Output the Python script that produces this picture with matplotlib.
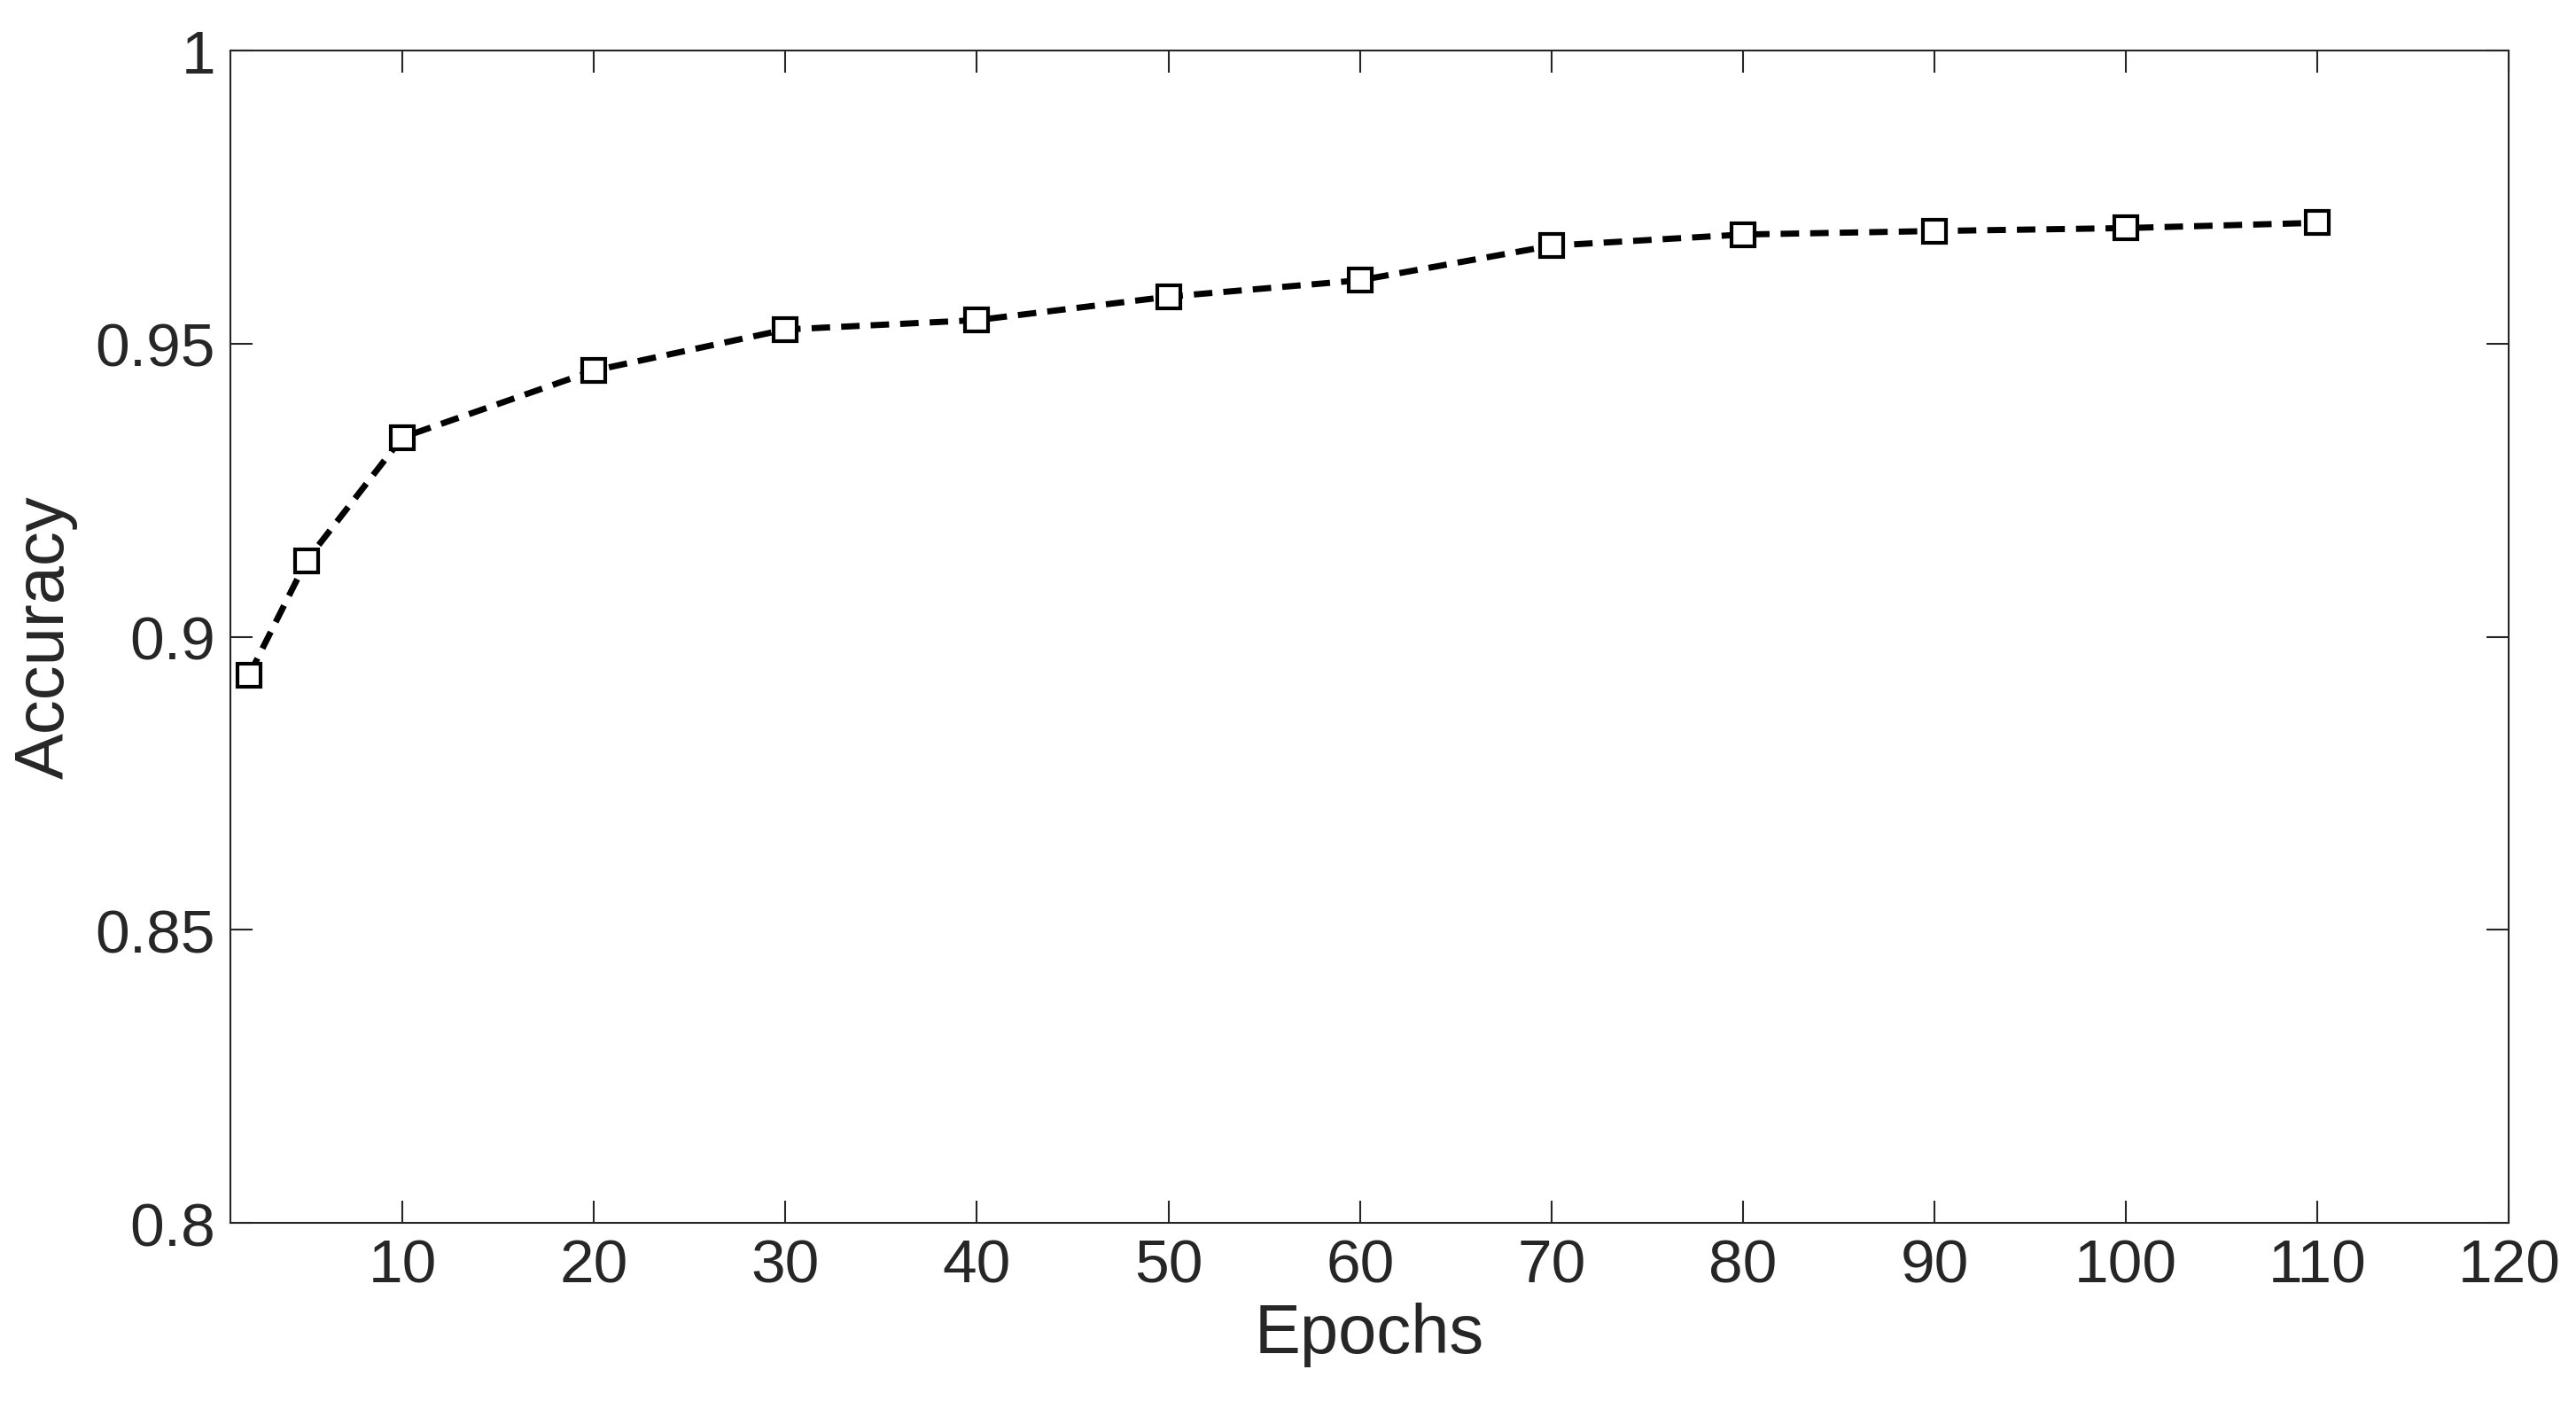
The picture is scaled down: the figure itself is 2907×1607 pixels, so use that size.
import matplotlib
matplotlib.use("Agg")
import matplotlib.pyplot as plt

epochs = [2, 5, 10, 20, 30, 40, 50, 60, 70, 80, 90, 100, 110]
accuracy = [0.8935, 0.913, 0.934, 0.9454, 0.9524, 0.954, 0.958, 0.9608, 0.9667, 0.9686, 0.9692, 0.9697, 0.9706]
xticks = [10, 20, 30, 40, 50, 60, 70, 80, 90, 100, 110, 120]
yticks = [0.8, 0.85, 0.9, 0.95, 1.0]
ytick_labels = ["0.8", "0.85", "0.9", "0.95", "1"]

plt.rcParams['font.family'] = ['Liberation Sans', 'DejaVu Sans']
fig = plt.figure(figsize=(29.07, 16.08), dpi=100)
ax = fig.add_axes([0.0893, 0.141, 0.8847, 0.823])
ax.plot(epochs, accuracy, linestyle=(0, (3, 1.8)), color='black', linewidth=5,
        marker='s', markersize=19, markerfacecolor='white', markeredgecolor='black', markeredgewidth=3)
ax.set_xlim(1, 120)
ax.set_ylim(0.8, 1.0)
ax.set_xticks(xticks)
ax.set_yticks(yticks)
ax.set_yticklabels(ytick_labels)
ax.tick_params(direction='in', length=18, width=1.5, labelsize=50, colors='#262626', pad=12)
ax.tick_params(axis='x', top=True)
ax.tick_params(axis='y', right=True)
for s in ax.spines.values():
    s.set_linewidth(1.5)
    s.set_color('#262626')
ax.set_xlabel('Epochs', fontsize=56, color='#262626', labelpad=6)
ax.set_ylabel('Accuracy', fontsize=56, color='#262626', labelpad=14)
fig.savefig('out.png', dpi=100)
